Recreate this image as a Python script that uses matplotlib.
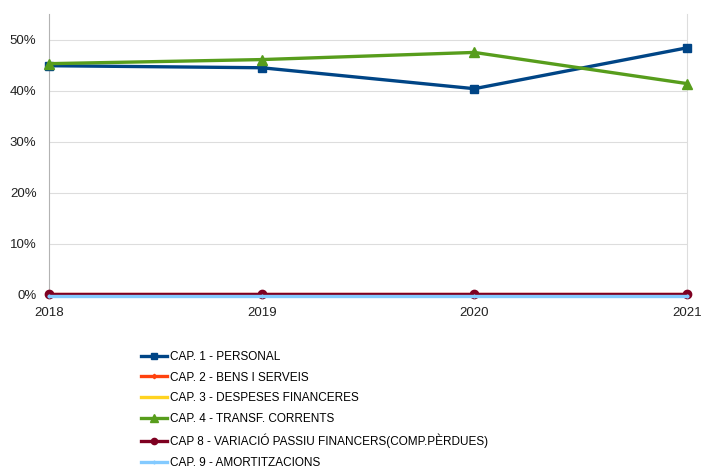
import matplotlib
matplotlib.use("Agg")
import matplotlib.pyplot as plt
from matplotlib.ticker import FuncFormatter

plt.rcParams["font.family"] = ["Liberation Sans", "DejaVu Sans"]

# dades (% sobre el total)
anys = [2018, 2019, 2020, 2021]
cap1 = [44.9, 44.5, 40.4, 48.4]
cap2 = [0.2, 0.2, 0.2, 0.2]
cap3 = [0.0, 0.0, 0.0, 0.0]
cap4 = [45.3, 46.1, 47.5, 41.4]
cap8 = [0.1, 0.1, 0.1, 0.1]
cap9 = [-0.2, -0.2, -0.2, -0.2]
noms = ["CAP. 1 - PERSONAL", "CAP. 2 - BENS I SERVEIS", "CAP. 3 - DESPESES FINANCERES",
        "CAP. 4 - TRANSF. CORRENTS", "CAP 8 - VARIACIÓ PASSIU FINANCERS(COMP.PÈRDUES)",
        "CAP. 9 - AMORTITZACIONS"]

series = [
    (cap1, "#004586", "s", 6),
    (cap2, "#ff420e", "D", 3),
    (cap3, "#ffd320", None, 0),
    (cap4, "#579d1c", "^", 7),
    (cap8, "#7e0021", "o", 6),
    (cap9, "#83caff", "+", 3),
]

fig = plt.figure(figsize=(7.01, 4.71), dpi=100)
ax = fig.add_axes([0.0699, 0.3737, 0.9101, 0.5963])

for (vals, col, mk, ms), nom in zip(series, noms):
    ax.plot(anys, vals, color=col, lw=2.4, marker=mk, markersize=ms,
            label=nom, clip_on=False, zorder=3)

ax.set_xlim(2018, 2021)
ax.set_ylim(0, 55)
ax.set_xticks(anys)
ax.set_yticks([0, 10, 20, 30, 40, 50])
ax.yaxis.set_major_formatter(FuncFormatter(lambda v, p: f"{v:.0f}%"))
ax.tick_params(length=0, labelsize=9.5, colors="#222222")
ax.tick_params(axis="y", pad=9)
ax.tick_params(axis="x", pad=9)
ax.grid(axis="y", color="#dddddd", lw=0.8)
for s in ["top", "bottom"]:
    ax.spines[s].set_visible(False)
ax.spines["left"].set_color("#b3b3b3")
ax.spines["right"].set_color("#dddddd")

fig.legend(loc="upper left", bbox_to_anchor=(0.201, 0.255), frameon=False,
           fontsize=8.5, handlelength=2.2, handletextpad=0.25, markerscale=0.75,
           labelspacing=0.74, borderaxespad=0, borderpad=0)

fig.savefig("out.png", dpi=100)
